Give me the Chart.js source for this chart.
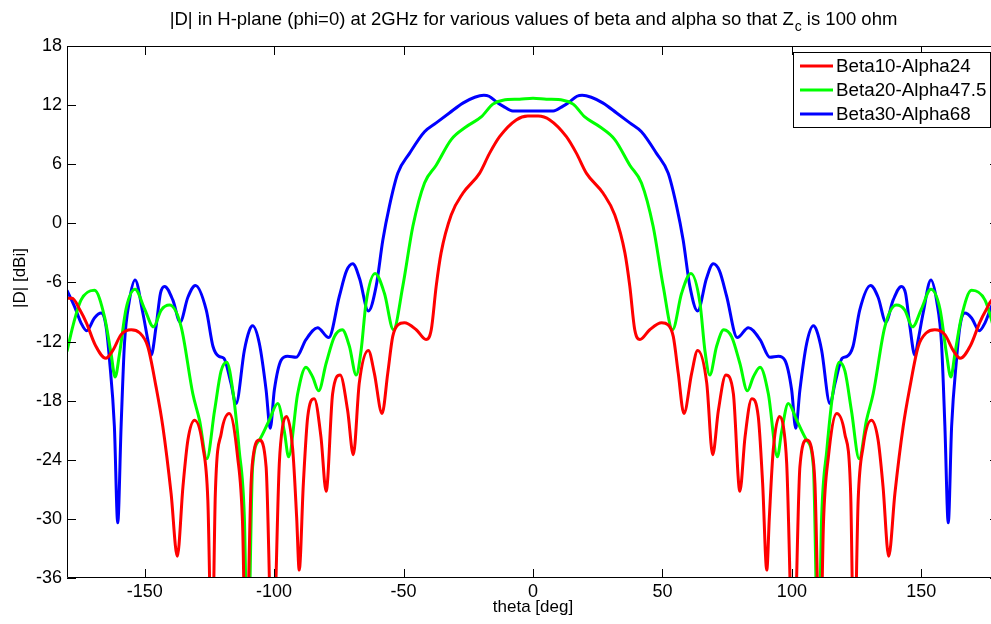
<!DOCTYPE html>
<html>
<head>
<meta charset="utf-8">
<script src="https://cdn.jsdelivr.net/npm/chart.js@4.4.0/dist/chart.umd.min.js"></script>
<style>
  html, body { margin: 0; padding: 0; background: #fff; overflow: hidden; }
  #wrap { width: 1000px; height: 624px; }
</style>
</head>
<body>
<div id="wrap"><canvas id="chart" width="1000" height="624"></canvas></div>
<script>
// --- DATA ---
const seriesNames = ['Beta10-Alpha24', 'Beta20-Alpha47.5', 'Beta30-Alpha68'];
const seriesColors = ['#ff0000', '#00ff00', '#0000ff'];

const thetaRed = [-180, -178, -175, -172.5, -169, -165, -162.3, -159.1, -155.2, -152, -148.8, -145.6, -143, -139.8, -137.4, -135.2, -133.3, -130.7, -127.5, -125.6, -124, -122.7, -120.4, -117.3, -114.1, -112.2, -110.9, -108.9, -107.7, -105.7, -103.1, -100.6, -98, -96.7, -95.2, -92.8, -91.3, -90.3, -88.7, -87, -84.5, -81.9, -79.9, -77.4, -74.5, -71.6, -69.4, -67.1, -63.6, -61.3, -58.3, -56.1, -54.2, -52.2, -49.7, -45.1, -41.3, -39.3, -37.4, -35.5, -31.6, -27.1, -20.6, -16.8, -12.9, -6.5, -2, 0,
  2, 6.5, 12.9, 16.8, 20.6, 27.1, 31.6, 35.5, 37.4, 39.3, 41.3, 45.1, 49.7, 52.2, 54.2, 56.1, 58.3, 61.3, 63.6, 67.1, 69.4, 71.6, 74.5, 77.4, 79.9, 81.9, 84.5, 87, 88.7, 90.3, 91.3, 92.8, 95.2, 96.7, 98, 100.6, 103.1, 105.7, 107.7, 108.9, 110.9, 112.2, 114.1, 117.3, 120.4, 122.7, 124, 125.6, 127.5, 130.7, 133.3, 135.2, 137.4, 139.8, 143, 145.6, 148.8, 152, 155.2, 159.1, 162.3, 165, 169, 172.5, 175, 178, 180];
const dRed = [-7.6, -7.6, -8.8, -10.1, -12.4, -13.7, -12.9, -11.3, -10.8, -11.1, -12.5, -16.6, -20.6, -27.4, -33.8, -26.7, -22.0, -20.0, -22.7, -28.1, -45, -27.4, -21.3, -19.3, -23.7, -30.4, -45, -26.4, -23.0, -22.0, -24.7, -45, -24.4, -20.6, -19.6, -23.0, -29.8, -35.2, -26.4, -19.6, -17.8, -21.7, -27.2, -17.3, -15.4, -19.0, -23.5, -16.2, -12.9, -15.2, -19.3, -15.2, -11.5, -10.3, -10.1, -10.8, -11.8, -10.8, -6.4, -3.0, 0.85, 3.05, 5.1, 7.1, 8.8, 10.5, 10.9, 10.9,
  10.9, 10.5, 8.8, 7.1, 5.1, 3.05, 0.85, -3.0, -6.4, -10.8, -11.8, -10.8, -10.1, -10.3, -11.5, -15.2, -19.3, -15.2, -12.9, -16.2, -23.5, -19.0, -15.4, -17.3, -27.2, -21.7, -17.8, -19.6, -26.4, -35.2, -29.8, -23.0, -19.6, -20.6, -24.4, -45, -24.7, -22.0, -23.0, -26.4, -45, -30.4, -23.7, -19.3, -21.3, -27.4, -45, -28.1, -22.7, -20.0, -22.0, -26.7, -33.8, -27.4, -20.6, -16.6, -12.5, -11.1, -10.8, -11.3, -12.9, -13.7, -12.4, -10.1, -8.8, -7.6, -7.6];

const thetaGreen = [-180, -177.8, -174.6, -169.4, -165.5, -163, -161.4, -159.7, -157.2, -153.7, -150, -146.6, -143.6, -140.4, -135.9, -131.4, -128.8, -126, -123, -120.5, -118.3, -116, -113.5, -111.5, -110.2, -108.3, -105.7, -101.9, -98.6, -96, -94.4, -90.9, -87.7, -85.1, -82.8, -79.9, -76.7, -73.7, -70.9, -68.3, -66.4, -64.5, -61, -57.4, -53.9, -50.3, -46.4, -41.9, -37.4, -31.6, -25.8, -20, -15.5, -11.6, -5.2, 0,
  5.2, 11.6, 15.5, 20, 25.8, 31.6, 37.4, 41.9, 46.4, 50.3, 53.9, 57.4, 61, 64.5, 66.4, 68.3, 70.9, 73.7, 76.7, 79.9, 82.8, 85.1, 87.7, 90.9, 94.4, 96, 98.6, 101.9, 105.7, 108.3, 110.2, 111.5, 113.5, 116, 118.3, 120.5, 123, 126, 128.8, 131.4, 135.9, 140.4, 143.6, 146.6, 150, 153.7, 157.2, 159.7, 161.4, 163, 165.5, 169.4, 174.6, 177.8, 180];
const dGreen = [-13.0, -10.5, -7.8, -6.8, -9.5, -13.2, -15.6, -13.2, -8.7, -6.7, -8.7, -10.5, -8.8, -8.3, -10.5, -17.3, -20.0, -23.9, -19.0, -15.0, -14.1, -16.9, -23.0, -29.8, -45, -24.7, -22.0, -20.0, -18.3, -21.2, -23.7, -17.3, -14.6, -15.6, -17.0, -14.2, -11.5, -10.8, -12.5, -15.4, -12.9, -8.1, -5.1, -7.1, -10.8, -6.4, -0.3, 4.1, 5.9, 8.5, 9.8, 10.8, 12.1, 12.5, 12.6, 12.7,
  12.6, 12.5, 12.1, 10.8, 9.8, 8.5, 5.9, 4.1, -0.3, -6.4, -10.8, -7.1, -5.1, -8.1, -12.9, -15.4, -12.5, -10.8, -11.5, -14.2, -17.0, -15.6, -14.6, -17.3, -23.7, -21.2, -18.3, -20.0, -22.0, -24.7, -45, -29.8, -23.0, -16.9, -14.1, -15.0, -19.0, -23.9, -20.0, -17.3, -10.5, -8.3, -8.8, -10.5, -8.7, -6.7, -8.7, -13.2, -15.6, -13.2, -9.5, -6.8, -7.8, -10.5, -13.0];

const thetaBlue = [-180, -177, -174.6, -172.4, -169.4, -166.8, -164.9, -163.6, -161.7, -160.4, -159.1, -157.8, -156, -153.7, -150.7, -148.8, -147.5, -145.6, -143.9, -142.3, -139.1, -136.3, -133.3, -130.4, -126.2, -123.6, -121.3, -119.4, -116.7, -114.7, -111.5, -109.6, -108.3, -105.7, -103.1, -101.5, -99.9, -97.3, -94.8, -91.5, -87.7, -83.2, -78.9, -74.8, -72, -69.6, -67, -63.6, -60.6, -58, -55.5, -52.2, -47.7, -41.9, -37.4, -32.3, -27.1, -22.5, -19, -17, -14, -11.6, -7.8, 0,
  7.8, 11.6, 14, 17, 19, 22.5, 27.1, 32.3, 37.4, 41.9, 47.7, 52.2, 55.5, 58, 60.6, 63.6, 67, 69.6, 72, 74.8, 78.9, 83.2, 87.7, 91.5, 94.8, 97.3, 99.9, 101.5, 103.1, 105.7, 108.3, 109.6, 111.5, 114.7, 116.7, 119.4, 121.3, 123.6, 126.2, 130.4, 133.3, 136.3, 139.1, 142.3, 143.9, 145.6, 147.5, 148.8, 150.7, 153.7, 156, 157.8, 159.1, 160.4, 161.7, 163.6, 164.9, 166.8, 169.4, 172.4, 174.6, 177, 180];
const dBlue = [-6.8, -8.5, -10.1, -10.9, -9.6, -9.1, -10.5, -13.8, -20.6, -30.4, -20.6, -12.2, -8.0, -5.75, -9.1, -11.8, -13.4, -10.5, -7.1, -6.4, -7.8, -10.0, -7.5, -6.3, -8.8, -12.5, -13.5, -13.7, -16.2, -18.3, -12.9, -10.9, -10.4, -12.2, -16.9, -20.8, -16.9, -13.9, -13.5, -13.6, -11.8, -10.6, -11.6, -7.4, -4.8, -4.1, -5.6, -8.9, -6.4, -1.7, 1.7, 5.1, 7.1, 9.3, 10.2, 11.2, 12.2, 12.8, 13.0, 12.9, 12.3, 11.9, 11.4, 11.4,
  11.4, 11.9, 12.3, 12.9, 13.0, 12.8, 12.2, 11.2, 10.2, 9.3, 7.1, 5.1, 1.7, -1.7, -6.4, -8.9, -5.6, -4.1, -4.8, -7.4, -11.6, -10.6, -11.8, -13.6, -13.5, -13.9, -16.9, -20.8, -16.9, -12.2, -10.4, -10.9, -12.9, -18.3, -16.2, -13.7, -13.5, -12.5, -8.8, -6.3, -7.5, -10.0, -7.8, -6.4, -7.1, -10.5, -13.4, -11.8, -9.1, -5.75, -8.0, -12.2, -20.6, -30.4, -20.6, -13.8, -10.5, -9.1, -9.6, -10.9, -10.1, -8.5, -6.8];

const xTicks = [-150, -100, -50, 0, 50, 100, 150];
const yTicks = [-36, -30, -24, -18, -12, -6, 0, 6, 12, 18];

const FONT = '"Liberation Sans", Arial, sans-serif';

function toPoints(xs, ys) {
    return xs.map((x, i) => ({ x: x, y: ys[i] }));
}

// MATLAB style frame: box, inward ticks, title, axis labels, legend
const matlabFrame = {
    id: 'matlabFrame',
    afterDraw(chart) {
        const ctx = chart.ctx;
        const a = chart.chartArea;
        const sx = chart.scales.x, sy = chart.scales.y;
        const tl = 9;
        ctx.save();
        ctx.strokeStyle = '#000';
        ctx.lineWidth = 1;
        ctx.beginPath();
        ctx.rect(a.left + 0.5, a.top + 0.5, a.right - a.left - 1, a.bottom - a.top - 1);
        xTicks.forEach(v => {
            const px = Math.round(sx.getPixelForValue(v)) + 0.5;
            ctx.moveTo(px, a.bottom); ctx.lineTo(px, a.bottom - tl);
            ctx.moveTo(px, a.top); ctx.lineTo(px, a.top + tl);
        });
        yTicks.forEach(v => {
            const py = Math.round(sy.getPixelForValue(v)) + 0.5;
            ctx.moveTo(a.left, py); ctx.lineTo(a.left + tl, py);
            ctx.moveTo(a.right, py); ctx.lineTo(a.right - tl, py);
        });
        ctx.stroke();

        // title with subscript
        ctx.fillStyle = '#000';
        ctx.textBaseline = 'alphabetic';
        const t1 = '|D| in H-plane (phi=0) at 2GHz for various values of beta and alpha so that Z';
        const t2 = 'c';
        const t3 = ' is 100 ohm';
        ctx.font = '18.5px ' + FONT;
        const w1 = ctx.measureText(t1).width, w3 = ctx.measureText(t3).width;
        ctx.font = '14px ' + FONT;
        const w2 = ctx.measureText(t2).width;
        const cx = (a.left + a.right) / 2;
        const x0 = cx - (w1 + w2 + w3) / 2;
        const base = 25;
        ctx.font = '18.5px ' + FONT;
        ctx.textAlign = 'left';
        ctx.fillText(t1, x0, base);
        ctx.font = '14px ' + FONT;
        ctx.fillText(t2, x0 + w1 + 1, base + 6);
        ctx.font = '18.5px ' + FONT;
        ctx.fillText(t3, x0 + w1 + w2 + 1, base);

        // axis labels
        ctx.font = '17px ' + FONT;
        ctx.textAlign = 'center';
        ctx.textBaseline = 'middle';
        ctx.fillText('theta [deg]', cx, 607);
        ctx.save();
        ctx.translate(20, 278);
        ctx.rotate(-Math.PI / 2);
        ctx.fillText('|D| [dBi]', 0, 0);
        ctx.restore();

        // legend
        const lx = 793, ly = 52, lw = 197, lh = 75;
        ctx.fillStyle = '#fff';
        ctx.fillRect(lx, ly, lw, lh);
        ctx.strokeStyle = '#000';
        ctx.lineWidth = 1;
        ctx.strokeRect(lx + 0.5, ly + 0.5, lw, lh);
        ctx.font = '18.8px ' + FONT;
        ctx.textAlign = 'left';
        chart.data.datasets.forEach((ds, i) => {
            const yy = 66 + i * 24;
            ctx.strokeStyle = ds.borderColor;
            ctx.lineWidth = 3;
            ctx.beginPath();
            ctx.moveTo(800, yy); ctx.lineTo(833, yy);
            ctx.stroke();
            ctx.fillStyle = '#000';
            ctx.fillText(ds.label, 836, yy + 1);
        });
        ctx.restore();
    }
};

const lineOpts = { borderWidth: 3, pointRadius: 0, fill: false, cubicInterpolationMode: 'monotone', clip: 0 };

new Chart(document.getElementById('chart'), {
    type: 'line',
    data: {
        datasets: [
            Object.assign({ label: seriesNames[0], data: toPoints(thetaRed, dRed), borderColor: seriesColors[0] }, lineOpts),
            Object.assign({ label: seriesNames[1], data: toPoints(thetaGreen, dGreen), borderColor: seriesColors[1] }, lineOpts),
            Object.assign({ label: seriesNames[2], data: toPoints(thetaBlue, dBlue), borderColor: seriesColors[2] }, lineOpts)
        ]
    },
    options: {
        responsive: false,
        animation: false,
        layout: { padding: { top: 46, right: 1, left: 0, bottom: 0 } },
        plugins: { legend: { display: false }, title: { display: false }, tooltip: { enabled: false } },
        scales: {
            x: {
                type: 'linear', min: -180, max: 180,
                afterBuildTicks: s => { s.ticks = xTicks.map(v => ({ value: v })); },
                afterFit: s => { s.height = 46; },
                grid: { display: false, drawTicks: false },
                border: { display: false },
                ticks: { color: '#000', font: { family: FONT, size: 18 }, padding: 3, maxRotation: 0, autoSkip: false }
            },
            y: {
                type: 'linear', min: -36, max: 18,
                afterBuildTicks: s => { s.ticks = yTicks.map(v => ({ value: v })); },
                afterFit: s => { s.width = 67; },
                grid: { display: false, drawTicks: false },
                border: { display: false },
                ticks: { color: '#000', font: { family: FONT, size: 18 }, padding: 5, autoSkip: false }
            }
        }
    },
    plugins: [matlabFrame]
});
</script>
</body>
</html>
